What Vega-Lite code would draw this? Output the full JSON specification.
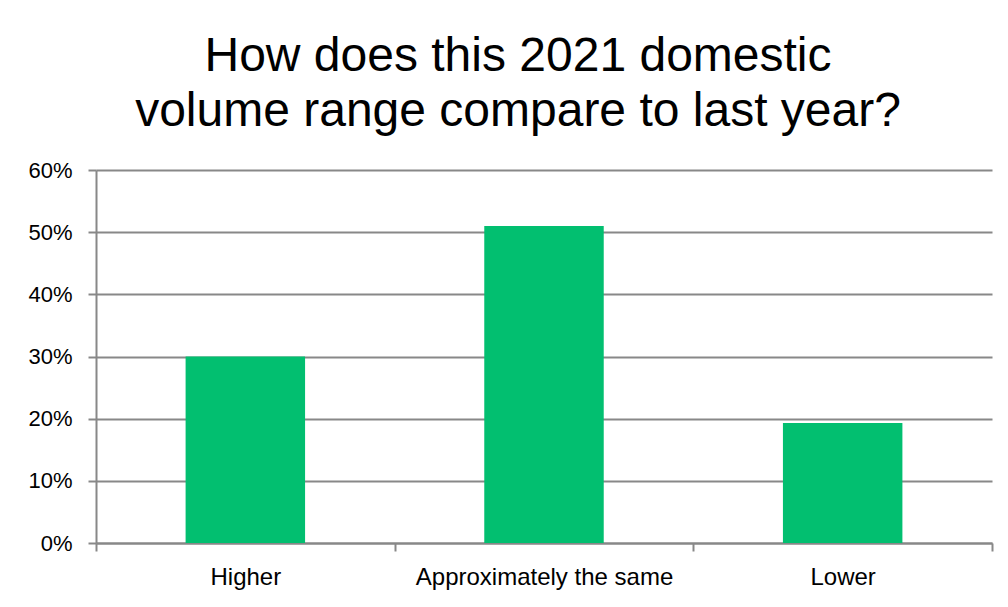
{
  "$schema": "https://vega.github.io/schema/vega-lite/v6.json",
  "autosize": "none",
  "width": 896,
  "height": 373,
  "padding": {"left": 96, "top": 170, "right": 16, "bottom": 64},
  "background": "white",
  "title": {
    "text": ["How does this 2021 domestic", "volume range compare to last year?"],
    "font": "Liberation Sans",
    "fontSize": 48,
    "fontWeight": "normal",
    "color": "#000000",
    "lineHeight": 55,
    "anchor": "middle",
    "frame": "group",
    "dx": -26,
    "offset": 23
  },
  "data": {
    "values": [
      {"answer": "Higher", "share": 0.30},
      {"answer": "Approximately the same", "share": 0.51},
      {"answer": "Lower", "share": 0.193}
    ]
  },
  "mark": {"type": "bar", "color": "#02BF70", "width": {"band": 0.4}},
  "encoding": {
    "x": {
      "field": "answer",
      "type": "nominal",
      "sort": null,
      "title": null,
      "scale": {"paddingInner": 0, "paddingOuter": 0},
      "axis": {
        "labelAngle": 0,
        "labelFont": "Liberation Sans",
        "labelFontSize": 24,
        "labelColor": "#000000",
        "labelPadding": 14,
        "labelLimit": 0,
        "tickBand": "extent",
        "tickSize": 8,
        "tickColor": "#888888",
        "tickWidth": 2,
        "domainColor": "#888888",
        "domainWidth": 2,
        "grid": false
      }
    },
    "y": {
      "field": "share",
      "type": "quantitative",
      "title": null,
      "scale": {"domain": [0, 0.6], "nice": false},
      "axis": {
        "values": [0, 0.1, 0.2, 0.3, 0.4, 0.5, 0.6],
        "format": ".0%",
        "labelFont": "Liberation Sans",
        "labelFontSize": 22,
        "labelColor": "#000000",
        "labelPadding": 16,
        "tickSize": 8,
        "tickColor": "#888888",
        "tickWidth": 2,
        "domainColor": "#888888",
        "domainWidth": 2,
        "grid": true,
        "gridColor": "#888888",
        "gridWidth": 2
      }
    }
  },
  "config": {"view": {"stroke": null}}
}
